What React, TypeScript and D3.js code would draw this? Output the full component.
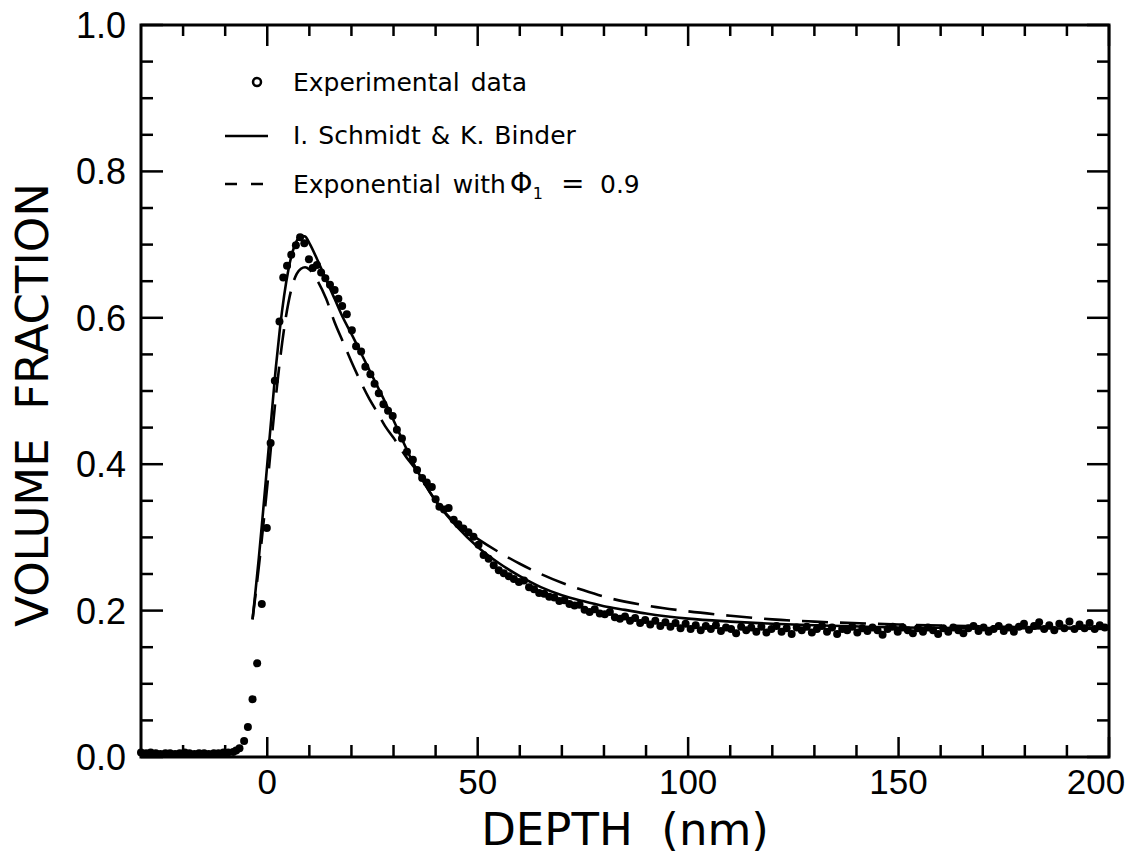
import React from "react";
import * as d3 from "d3";

// ---------- data ----------
const expDepth = [
  -30.0, -28.8, -27.7, -26.5, -25.4, -24.2, -23.1, -21.9, -20.8, -19.6, -18.5, -17.3, -16.2, -15.0, -13.9, -12.7,
  -11.6, -10.4, -9.3, -8.1, -7.4, -6.6, -5.5, -4.6, -3.5, -2.4, -1.3, -0.1, 0.8, 1.8, 2.9, 3.8, 4.7, 5.7, 6.8, 7.8,
  8.8, 9.9, 10.8, 11.8, 12.8, 13.8, 14.9, 16.0, 16.9, 17.8, 18.9, 20.1, 21.1, 22.3, 23.3, 24.5, 25.5, 26.5, 27.6,
  28.7, 29.8, 30.8, 32.0, 33.2, 34.6, 35.6, 36.8, 37.9, 39.1, 40.0, 40.9, 42.0, 43.1, 44.3, 45.4, 46.6, 47.8, 49.0,
  50.2, 51.4, 52.6, 53.8, 55.0, 56.2, 57.4, 58.6, 59.8, 61.0, 62.2, 63.4, 64.6, 65.8, 67.0, 68.2, 69.4, 70.6, 71.8,
  73.0, 74.2, 75.4, 76.6, 77.8, 79.0, 80.2, 81.4, 82.6, 83.8, 85.0, 86.2, 87.4, 88.6, 89.8, 91.0, 92.2, 93.4, 94.6,
  95.8, 97.0, 98.2, 99.4, 100.6, 101.8, 103.0, 104.2, 105.4, 106.6, 107.8, 109.0, 110.2, 111.4, 112.6, 113.8, 115.0,
  116.2, 117.4, 118.6, 119.8, 121.0, 122.2, 123.4, 124.6, 125.8, 127.0, 128.2, 129.4, 130.6, 131.8, 133.0, 134.2,
  135.4, 136.6, 137.8, 139.0, 140.2, 141.4, 142.6, 143.8, 145.0, 146.2, 147.4, 148.6, 149.8, 151.0, 152.2, 153.4,
  154.6, 155.8, 157.0, 158.2, 159.4, 160.6, 161.8, 163.0, 164.2, 165.4, 166.6, 167.8, 169.0, 170.2, 171.4, 172.6,
  173.8, 175.0, 176.2, 177.4, 178.6, 179.8, 181.0, 182.2, 183.4, 184.6, 185.8, 187.0, 188.2, 189.4, 190.6, 191.8,
  193.0, 194.2, 195.4, 196.6, 197.8, 199.0,
];
const expVF = [
  0.006, 0.005, 0.006, 0.005, 0.004, 0.005, 0.005, 0.004, 0.005, 0.006, 0.005, 0.004, 0.005, 0.005, 0.004, 0.005,
  0.005, 0.006, 0.006, 0.007, 0.009, 0.012, 0.022, 0.041, 0.079, 0.128, 0.209, 0.313, 0.429, 0.514, 0.595, 0.655, 0.671, 0.686, 0.699, 0.710,
  0.702, 0.680, 0.668, 0.672, 0.662, 0.654, 0.645, 0.638, 0.626, 0.616, 0.605, 0.583, 0.561, 0.554, 0.533, 0.523, 0.510, 0.497, 0.482,
  0.473, 0.466, 0.447, 0.435, 0.417, 0.406, 0.392, 0.381, 0.375, 0.369, 0.352, 0.342, 0.338, 0.340, 0.324, 0.318, 0.312, 0.307, 0.301,
  0.290, 0.276, 0.271, 0.262, 0.255, 0.251, 0.247, 0.243, 0.239, 0.241, 0.232, 0.229, 0.224, 0.223, 0.219, 0.218, 0.213, 0.214, 0.209,
  0.207, 0.208, 0.201, 0.198, 0.202, 0.196, 0.195, 0.198, 0.191, 0.189, 0.192, 0.186, 0.190, 0.183, 0.187, 0.181, 0.186, 0.179, 0.184,
  0.178, 0.183, 0.176, 0.182, 0.175, 0.180, 0.173, 0.179, 0.175, 0.180, 0.172, 0.177, 0.175, 0.169, 0.178, 0.173, 0.177,
  0.171, 0.178, 0.170, 0.175, 0.179, 0.171, 0.176, 0.168, 0.177, 0.173, 0.178, 0.170, 0.175, 0.179, 0.171, 0.177,
  0.168, 0.175, 0.173, 0.178, 0.170, 0.176, 0.172, 0.177, 0.173, 0.167, 0.175, 0.178, 0.171, 0.177, 0.173, 0.169,
  0.176, 0.171, 0.177, 0.173, 0.168, 0.176, 0.171, 0.177, 0.173, 0.169, 0.176, 0.179, 0.172, 0.177, 0.171, 0.175,
  0.179, 0.172, 0.177, 0.171, 0.178, 0.182, 0.174, 0.179, 0.184, 0.175, 0.180, 0.173, 0.182, 0.176, 0.185, 0.175,
  0.181, 0.176, 0.183, 0.175, 0.180, 0.177,
];

const sbDepth = [-3.5, -3, -2, -1, 0, 1, 2, 3, 4, 5, 6, 7, 8, 9, 10, 12, 14, 16, 18, 20, 22, 25, 28, 30, 35, 40, 45, 50, 55, 60, 65, 70, 75, 80, 85, 90, 100, 110, 120, 130, 150, 175, 200];
const sbVF = [0.188, 0.215, 0.272, 0.335, 0.4, 0.465, 0.53, 0.585, 0.63, 0.665, 0.69, 0.705, 0.712, 0.711, 0.702, 0.678, 0.652, 0.626, 0.6, 0.578, 0.555, 0.52, 0.485, 0.46, 0.398, 0.35, 0.315, 0.287, 0.265, 0.247, 0.232, 0.221, 0.213, 0.206, 0.201, 0.196, 0.189, 0.185, 0.182, 0.18, 0.177, 0.176, 0.175];

const expoDepth = [-3.5, -2, 0, 2, 4, 5, 6, 7, 8, 9, 10, 12, 14, 16, 18, 20, 22, 24, 26, 28, 30, 33, 35, 40, 45, 50, 55, 60, 65, 70, 75, 80, 90, 100, 110, 120, 130, 150, 175, 200];
const expoVF = [0.188, 0.26, 0.37, 0.49, 0.585, 0.62, 0.645, 0.66, 0.667, 0.669, 0.666, 0.65, 0.626, 0.594, 0.567, 0.54, 0.515, 0.492, 0.472, 0.452, 0.436, 0.41, 0.395, 0.35, 0.318, 0.298, 0.28, 0.264, 0.25, 0.238, 0.228, 0.219, 0.207, 0.199, 0.193, 0.188, 0.185, 0.181, 0.178, 0.176];

const xMajorTicks = [0, 50, 100, 150, 200];
const xMinorTicks = [-20, -10, 10, 20, 30, 40, 60, 70, 80, 90, 110, 120, 130, 140, 160, 170, 180, 190];
const yMajorTicks = [0, 0.2, 0.4, 0.6, 0.8, 1.0];
const yMinorTicks = [0.05, 0.1, 0.15, 0.25, 0.3, 0.35, 0.45, 0.5, 0.55, 0.65, 0.7, 0.75, 0.85, 0.9, 0.95];

const legendLabels = ["Experimental data", "I. Schmidt & K. Binder", "Exponential with"];

export default function App() {
  const W = 1129, H = 859;
  const x = d3.scaleLinear().domain([-30, 200]).range([141, 1109]);
  const y = d3.scaleLinear().domain([0, 1]).range([757, 25]);
  const line = d3
    .line<[number, number]>()
    .x((d) => x(d[0]))
    .y((d) => y(d[1]))
    .curve(d3.curveMonotoneX);
  const sbPath = line(sbDepth.map((d, i) => [d, sbVF[i]]) as [number, number][]) || "";
  const expoPath = line(expoDepth.map((d, i) => [d, expoVF[i]]) as [number, number][]) || "";

  const x0 = x.range()[0], x1 = x.range()[1];
  const y0 = y.range()[0], y1 = y.range()[1];
  const tickFont = "'Liberation Sans', Arial, sans-serif";
  const textFont = "'DejaVu Sans', sans-serif";

  return (
    <svg width={W} height={H} style={{ position: "absolute", left: 0, top: 0, background: "#fff" }}>
      <rect x={0} y={0} width={W} height={H} fill="#fff" />
      {/* frame */}
      <rect x={x0} y={y1} width={x1 - x0} height={y0 - y1} fill="none" stroke="#000" strokeWidth={3} />
      {/* x ticks bottom & top */}
      {xMajorTicks.map((t) => (
        <g key={"xM" + t}>
          <line x1={x(t)} x2={x(t)} y1={y0} y2={y0 - 20} stroke="#000" strokeWidth={2.5} />
          <line x1={x(t)} x2={x(t)} y1={y1} y2={y1 + 21} stroke="#000" strokeWidth={2.5} />
        </g>
      ))}
      {xMinorTicks.map((t) => (
        <g key={"xm" + t}>
          <line x1={x(t)} x2={x(t)} y1={y0} y2={y0 - 12} stroke="#000" strokeWidth={2.5} />
          <line x1={x(t)} x2={x(t)} y1={y1} y2={y1 + 11} stroke="#000" strokeWidth={2.5} />
        </g>
      ))}
      {yMajorTicks.map((t) => (
        <g key={"yM" + t}>
          <line x1={x0} x2={x0 + 22} y1={y(t)} y2={y(t)} stroke="#000" strokeWidth={2.5} />
          <line x1={x1} x2={x1 - 22} y1={y(t)} y2={y(t)} stroke="#000" strokeWidth={2.5} />
        </g>
      ))}
      {yMinorTicks.map((t) => (
        <g key={"ym" + t}>
          <line x1={x0} x2={x0 + 12} y1={y(t)} y2={y(t)} stroke="#000" strokeWidth={2.5} />
          <line x1={x1} x2={x1 - 12} y1={y(t)} y2={y(t)} stroke="#000" strokeWidth={2.5} />
        </g>
      ))}
      {/* tick labels */}
      {xMajorTicks.map((t) => (
        <text key={"xl" + t} x={t === 200 ? Math.min(x(t), W - 33) : x(t)} y={794} fontSize={35}
          fontFamily={tickFont} textAnchor="middle" fill="#000">{t}</text>
      ))}
      {yMajorTicks.map((t) => (
        <text key={"yl" + t} x={126} y={y(t) + 13} fontSize={36}
          fontFamily={tickFont} textAnchor="end" fill="#000">{t.toFixed(1)}</text>
      ))}
      {/* axis titles */}
      <text x={(x0 + x1) / 2} y={845} fontSize={45} fontFamily={textFont} textAnchor="middle" fill="#000"
        style={{ whiteSpace: "pre" }}>{"DEPTH  (nm)"}</text>
      <text transform={`translate(48,${(y0 + y1) / 2 + 14}) rotate(-90)`} fontSize={45} fontFamily={textFont}
        textAnchor="middle" fill="#000" style={{ whiteSpace: "pre" }}>{"VOLUME  FRACTION"}</text>
      {/* curves */}
      <path d={sbPath} fill="none" stroke="#000" strokeWidth={2.6} />
      <path d={expoPath} fill="none" stroke="#000" strokeWidth={2.6} strokeDasharray="26 12" />
      {/* experimental points */}
      {expDepth.map((d, i) => (
        <circle key={"p" + i} cx={x(d)} cy={y(expVF[i])} r={4} fill="#000" />
      ))}
      {/* legend */}
      <circle cx={257} cy={82} r={4} fill="none" stroke="#000" strokeWidth={2.5} />
      <text x={293} y={91} fontSize={25} fontFamily={textFont} fill="#000" wordSpacing={3}
        style={{ whiteSpace: "pre" }}>{legendLabels[0]}</text>
      <line x1={225} x2={268} y1={136} y2={136} stroke="#000" strokeWidth={2.6} />
      <text x={293} y={144} fontSize={25} fontFamily={textFont} fill="#000" wordSpacing={2}
        style={{ whiteSpace: "pre" }}>{legendLabels[1]}</text>
      <line x1={225} x2={263} y1={184} y2={184} stroke="#000" strokeWidth={2.6} strokeDasharray="12 14" />
      <text x={293} y={193} fontSize={25} fontFamily={textFont} fill="#000" wordSpacing={4}
        style={{ whiteSpace: "pre" }}>
        {legendLabels[2]}
        <tspan dx={4} fontSize={29}>Φ</tspan>
        <tspan fontSize={16} dy={6}>1</tspan>
        <tspan dy={-6} x={561} fontSize={28}>=</tspan>
        <tspan x={600}>0.9</tspan>
      </text>
    </svg>
  );
}
